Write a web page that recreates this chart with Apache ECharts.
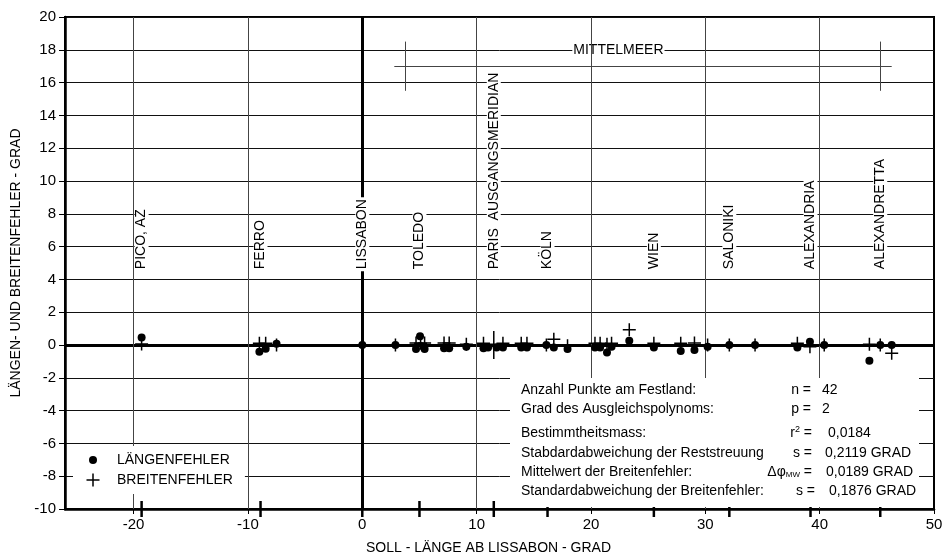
<!DOCTYPE html>
<html><head><meta charset="utf-8">
<script src="https://cdn.jsdelivr.net/npm/echarts@6/dist/echarts.min.js"></script>
<style>html,body{margin:0;padding:0;background:#fff}#c{width:946px;height:560px}</style>
</head><body><div id="c"></div>
<script>
// ---- data ----
const xTickValues = [-20, -10, 0, 10, 20, 30, 40, 50];
const xGridValues = [-20, -10, 10, 20, 30, 40];
const cityNames = ['PICO, AZ', 'FERRO', 'LISSABON', 'TOLEDO', 'PARIS  AUSGANGSMERIDIAN', 'KÖLN', 'WIEN', 'SALONIKI', 'ALEXANDRIA', 'ALEXANDRETTA'];
const cityLon = [-19.3, -8.9, 0, 5.0, 11.5, 16.2, 25.5, 32.1, 39.2, 45.3];
const cityLabelBase = 4.5;
const laengeLon = [-19.3, -9.0, -8.45, -7.5, 0, 2.9, 4.7, 5.05, 5.45, 7.15, 7.6, 9.1, 10.6, 11.0, 11.75, 12.3, 13.9, 14.4, 16.1, 16.75, 17.95, 20.35, 20.8, 21.4, 21.8, 23.35, 25.5, 27.85, 29.05, 30.2, 32.1, 34.35, 38.05, 39.15, 40.4, 44.35, 45.3, 46.3];
const laengeErr = [0.46, -0.41, -0.23, 0.08, 0, 0, -0.25, 0.53, -0.25, -0.2, -0.2, -0.1, -0.2, -0.15, -0.15, -0.15, -0.15, -0.15, 0, -0.15, -0.25, -0.15, -0.15, -0.45, -0.1, 0.26, -0.15, -0.37, -0.3, -0.1, 0, 0, -0.15, 0.2, 0, -0.96, 0, 0];
const breiteLon = [-19.3, -9.0, -8.45, -7.5, 0, 2.9, 4.7, 5.1, 5.45, 7.15, 7.6, 9.1, 10.6, 11.5, 12.3, 13.9, 14.4, 16.1, 16.75, 17.95, 20.35, 20.8, 21.4, 21.8, 23.35, 25.5, 27.85, 29.05, 30.2, 32.1, 34.35, 38.05, 39.15, 40.4, 44.35, 45.3, 46.3];
const breiteErr = [0.06, 0.1, 0.1, 0, 0, 0, 0.12, 0.1, 0.12, 0.12, 0.12, 0.05, 0.1, 0, 0.1, 0.1, 0.1, 0, 0.35, -0.05, 0.1, 0.1, 0.05, 0.1, 0.93, 0.1, 0.1, 0.12, 0, 0, 0, 0.1, -0.1, 0, 0.05, 0, -0.5];
const parisRefLon = 11.5;   // reference meridian, drawn as a tall cross
const mittelmeerName = 'MITTELMEER';
const mittelmeerEnds = [3.8, 45.3];
const mittelmeerLevel = 17;
const mittelmeerLabelPos = [22.4, 18];

// ---- chart ----
const F = '"Liberation Sans", Arial, Helvetica, sans-serif';
const crossSym = 'path://M5.75,0H7.25V5.75H13V7.25H7.25V13H5.75V7.25H0V5.75H5.75Z';
const dotIcon = 'path://M0,0M26,14M11,7A4,4,0,1,1,3,7A4,4,0,1,1,11,7Z';
const crossIcon = 'path://M0,0M26,14M6.25,0.5H7.75V6.25H13.5V7.75H7.75V13.5H6.25V7.75H0.5V6.25H6.25Z';

const chart = echarts.init(document.getElementById('c'));

const mmLines = [
  [{coord: [mittelmeerEnds[0] - 1, mittelmeerLevel]}, {coord: [mittelmeerEnds[1] + 1, mittelmeerLevel]}],
  [{coord: [mittelmeerEnds[0], mittelmeerLevel + 1.5]}, {coord: [mittelmeerEnds[0], mittelmeerLevel - 1.5]}],
  [{coord: [mittelmeerEnds[1], mittelmeerLevel + 1.5]}, {coord: [mittelmeerEnds[1], mittelmeerLevel - 1.5]}]
];

const statRows = [
  {y: 390, left: 'Anzahl Punkte am Festland:', lab: 'n =', labX: 811, val: '42', valX: 822},
  {y: 409, left: 'Grad des Ausgleichspolynoms:', lab: 'p =', labX: 811, val: '2', valX: 822},
  {y: 433, left: 'Bestimmtheitsmass:', lab: 'r{sup|2} =', labX: 812, val: '0,0184', valX: 828},
  {y: 453, left: 'Stabdardabweichung der Reststreuung', lab: 's =', labX: 812, val: '0,2119 GRAD', valX: 825},
  {y: 472, left: 'Mittelwert der Breitenfehler:', lab: 'Δφ{sub|MW} =', labX: 812, val: '0,0189 GRAD', valX: 826},
  {y: 491, left: 'Standardabweichung der Breitenfehler:', lab: 's =', labX: 815, val: '0,1876 GRAD', valX: 829}
];
const statChildren = [{type: 'rect', z: 100, shape: {x: 510, y: 378, width: 409, height: 129}, style: {fill: '#fff'}}];
statRows.forEach(r => {
  statChildren.push({type: 'text', z: 101, x: 521, y: r.y, style: {text: r.left, font: '14px ' + F, fill: '#000', align: 'left', verticalAlign: 'middle'}});
  statChildren.push({type: 'text', z: 101, x: r.labX, y: r.y, style: {text: r.lab, font: '14px ' + F, fill: '#000', align: 'right', verticalAlign: 'middle',
    rich: {sup: {fontSize: 9, fontFamily: F, verticalAlign: 'top', lineHeight: 16, padding: [0, 0, 6, 0]}, sub: {fontSize: 8, fontFamily: F, verticalAlign: 'bottom', padding: [6, 0, 0, 0]}}}});
  statChildren.push({type: 'text', z: 101, x: r.valX, y: r.y, style: {text: r.val, font: '14px ' + F, fill: '#000', align: 'left', verticalAlign: 'middle'}});
});

const option = {
  animation: false,
  backgroundColor: '#fff',
  textStyle: {fontFamily: F},
  grid: {left: 65, right: 12, top: 17, bottom: 51, show: true, borderColor: '#000', borderWidth: 2},
  legend: {
    orient: 'vertical', left: 73, top: 446, z: 100, backgroundColor: '#fff',
    padding: [7, 12, 7, 13], itemGap: 6, itemWidth: 26, itemHeight: 14, selectedMode: false,
    textStyle: {fontSize: 14, color: '#000', fontFamily: F},
    data: [{name: 'LÄNGENFEHLER', icon: dotIcon}, {name: 'BREITENFEHLER', icon: crossIcon}]
  },
  xAxis: {
    type: 'value', min: -26, max: 50, position: 'bottom',
    axisLine: {onZero: false, lineStyle: {color: '#000', width: 2.5}},
    axisTick: {show: true, customValues: xTickValues, length: 5, lineStyle: {color: '#000', width: 1}},
    axisLabel: {customValues: xTickValues, fontSize: 15, color: '#000', margin: 8, fontFamily: F},
    splitLine: {show: false},
    name: 'SOLL - LÄNGE AB LISSABON - GRAD', nameLocation: 'middle', nameGap: 32,
    nameTextStyle: {fontSize: 14, color: '#000', fontFamily: F, padding: [0, 22, 0, 0]}
  },
  yAxis: {
    type: 'value', min: -10, max: 20, interval: 2,
    axisLine: {show: true, onZero: false, lineStyle: {color: '#000', width: 2.5}},
    axisTick: {show: true, length: 6, lineStyle: {color: '#000', width: 1}},
    axisLabel: {fontSize: 15, color: '#000', margin: 9, fontFamily: F},
    splitLine: {show: true, lineStyle: {color: '#111', width: 1}},
    name: 'LÄNGEN- UND BREITENFEHLER - GRAD', nameLocation: 'middle', nameGap: 36,
    nameTextStyle: {fontSize: 14, color: '#000', fontFamily: F}
  },
  graphic: [{type: 'group', z: 100, children: statChildren}],
  series: [
    {
      type: 'line', name: '_base', data: [], silent: true,
      markLine: {symbol: 'none', silent: true, z: 1, label: {show: false},
        data: [
          {xAxis: 0, lineStyle: {width: 3, color: '#000', type: 'solid'}},
          {yAxis: 0, lineStyle: {width: 3, color: '#000', type: 'solid'}}
        ]}
    },
    {
      type: 'custom', name: '_cities', z: 3, silent: true, clip: false,
      data: cityLon.map((x, i) => [x, cityLabelBase, i]),
      renderItem: function (params, api) {
        const p = api.coord([api.value(0), api.value(1)]);
        return {type: 'text', x: p[0], y: p[1], rotation: Math.PI / 2,
          style: {text: cityNames[api.value(2)], font: '14px ' + F, fill: '#000', align: 'left', verticalAlign: 'middle',
            backgroundColor: '#fff', padding: [0, 2, 0, 2]}};
      }
    },
    {
      type: 'custom', name: '_mm', z: 3, silent: true, clip: false,
      data: [mittelmeerLabelPos],
      renderItem: function (params, api) {
        const p = api.coord([api.value(0), api.value(1)]);
        return {type: 'text', x: p[0], y: p[1],
          style: {text: mittelmeerName, font: '14px ' + F, fill: '#000', align: 'center', verticalAlign: 'middle',
            backgroundColor: '#fff', padding: [1, 1, 1, 1]}};
      }
    },
    {
      type: 'line', name: '_grid', data: [], silent: true,
      markLine: {symbol: 'none', silent: true, z: 4, label: {show: false},
        lineStyle: {color: '#444', width: 1, type: 'solid'},
        data: xGridValues.map(v => ({xAxis: v})).concat(mmLines)}
    },
    {
      type: 'scatter', name: '_cityticks', silent: true, clip: false, z: 6,
      symbol: 'rect', symbolSize: [2.5, 16], itemStyle: {color: '#000', opacity: 1},
      data: cityLon.map(x => [x, -10])
    },
    {
      type: 'scatter', name: 'LÄNGENFEHLER', z: 6, symbol: 'circle', symbolSize: 8,
      itemStyle: {color: '#000', opacity: 1},
      data: laengeLon.map((x, i) => [x, laengeErr[i]])
    },
    {
      type: 'scatter', name: 'BREITENFEHLER', z: 6, symbol: crossSym,
      symbolSize: function (v) { return v[0] === parisRefLon ? [13, 28] : 13; },
      itemStyle: {color: '#000', opacity: 1},
      data: breiteLon.map((x, i) => [x, breiteErr[i]])
    }
  ]
};
chart.setOption(option);
</script>
</body></html>
